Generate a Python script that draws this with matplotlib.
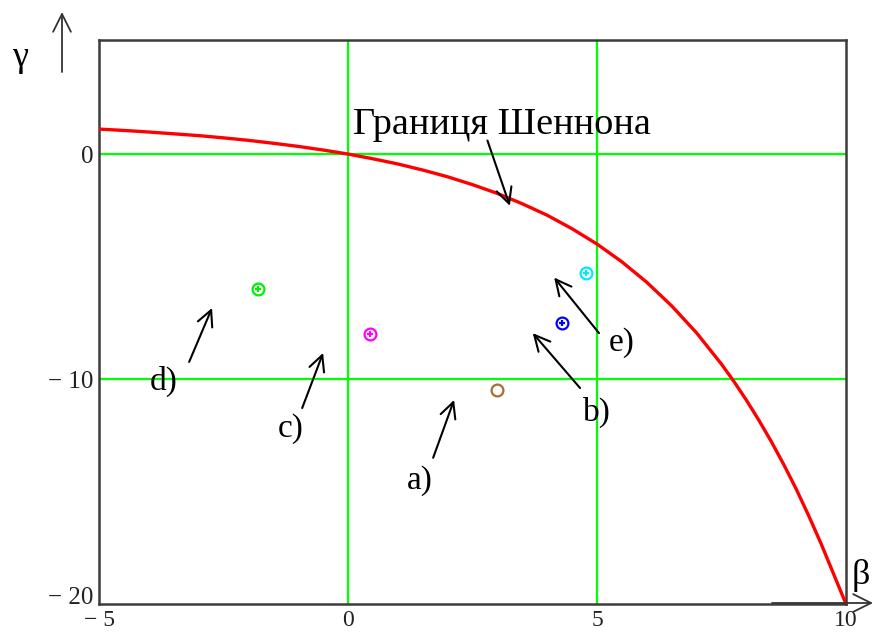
import numpy as np
import matplotlib.pyplot as plt
import matplotlib.transforms as mtransforms

plt.rcParams['font.family'] = ['Liberation Serif', 'DejaVu Serif']

# Shannon bound, gamma vs beta
beta = [-5.0, -4.5, -4.0, -3.5, -3.0, -2.5, -2.0, -1.5, -1.0, -0.5,
        0.0, 0.5, 1.0, 1.5, 2.0, 2.5, 3.0, 3.5, 4.0, 4.5,
        5.0, 5.5, 6.0, 6.5, 7.0, 7.5, 7.75, 8.0, 8.25, 8.5,
        8.75, 9.0, 9.25, 9.5, 9.75, 10.0]
gamma = [1.11, 1.05, 0.98, 0.90, 0.82, 0.72, 0.61, 0.48, 0.34, 0.18,
         0.0, -0.21, -0.44, -0.71, -1.01, -1.36, -1.75, -2.21, -2.72, -3.32,
         -4.0, -4.79, -5.70, -6.75, -7.95, -9.34, -10.11, -10.94, -11.83, -12.78,
         -13.80, -14.89, -16.07, -17.32, -18.66, -20.0]

# modulation schemes
point_names = ['a)', 'b)', 'c)', 'd)', 'e)']
point_beta = [3.0, 4.3, 0.45, -1.8, 4.78]
point_gamma = [-10.5, -7.5, -8.0, -6.0, -5.3]
point_colors = ['#b06a30', '#0000ff', '#ff00ff', '#00ee00', '#00e8ff']

x_ticks = [-5, 0, 5, 10]
y_ticks = [-20, -10, 0]


def tick_text(v):
    return '\u2212 %d' % abs(v) if v < 0 else '%d' % v


"""
Draw the bound, the scheme points and the annotations
"""
def plot_bound():
    fig = plt.figure(figsize=(8.73, 6.33), dpi=100)
    ax = fig.add_axes([99 / 873, 29 / 633, 747 / 873, 564 / 633])

    ax.set_xlim(-5, 10)
    ax.set_ylim(-20, 5.07)

    # green grid lines
    for v in [0, 5]:
        ax.axvline(v, color='#00ff00', lw=1.6, zorder=1)
    for v in [0, -10]:
        ax.axhline(v, color='#00ff00', lw=1.6, zorder=1)

    ax.plot(beta, gamma, color='#ff0000', lw=2.4, zorder=3)

    for i in range(len(point_names)):
        ax.plot(point_beta[i], point_gamma[i], 'o', ms=8.5, mfc='none',
                mec=point_colors[i], mew=1.6, zorder=4)
        if i > 0:
            ax.plot(point_beta[i], point_gamma[i], '+', ms=4.5,
                    mec=point_colors[i], mew=1.6, zorder=4)

    arrow = dict(arrowstyle='->', lw=1.5, color='black', mutation_scale=28,
                 shrinkA=0, shrinkB=0)
    fs = 24

    # label position, arrow tail, arrow head
    notes = [
        ('a)', (1.45, -14.5), (1.71, -13.5), (2.13, -10.93)),
        ('b)', (5.0, -11.5), (4.66, -10.4), (3.71, -7.96)),
        ('c)', (-1.16, -12.2), (-0.92, -11.29), (-0.5, -8.84)),
        ('d)', (-3.71, -10.1), (-3.19, -9.24), (-2.73, -6.84)),
        ('e)', (5.5, -8.4), (5.04, -7.96), (4.14, -5.49)),
    ]
    for name, txt, tail, head in notes:
        ax.text(txt[0], txt[1], name, fontsize=fs, ha='center', va='center')
        ax.annotate('', xy=head, xytext=tail, arrowprops=arrow)

    ax.text(3.1, 1.3, 'Границя Шеннона', fontsize=27.5, ha='center',
            va='center')
    ax.annotate('', xy=(3.25, -2.3), xytext=(2.8, 0.6), arrowprops=arrow)

    # axes look
    ax.set_xticks(x_ticks)
    ax.set_yticks(y_ticks)
    ax.set_xticklabels([tick_text(v) for v in x_ticks])
    ax.set_yticklabels([tick_text(v) for v in y_ticks])
    ax.tick_params(length=0, labelsize=17, colors='#222222')
    ax.tick_params(axis='x', pad=4)
    ax.tick_params(axis='y', pad=4, labelsize=18)
    # lift the lowest gamma label a bit so it clears the beta labels
    lowest = ax.get_yticklabels()[0]
    lowest.set_transform(lowest.get_transform() +
                         mtransforms.ScaledTranslation(0, 6 / 72, fig.dpi_scale_trans))
    for s in ax.spines.values():
        s.set_color('#3c3c3c')
        s.set_linewidth(1.8)

    # axis names with arrows outside the frame
    big_arrow = dict(arrowstyle='->', lw=1.3, color='#333333',
                     mutation_scale=32, shrinkA=0, shrinkB=0)
    fig.text(20 / 873, 575 / 633, '\u03b3', fontsize=26, ha='center',
             va='center')
    ax.annotate('', xy=(62, 621), xytext=(62, 561), xycoords='figure pixels',
                textcoords='figure pixels', arrowprops=big_arrow)
    fig.text(861 / 873, 58 / 633, '\u03b2', fontsize=26, ha='center',
             va='center')
    ax.annotate('', xy=(873, 30), xytext=(772, 30), xycoords='figure pixels',
                textcoords='figure pixels', arrowprops=big_arrow,
                annotation_clip=False)

    fig.savefig('out.png', dpi=100)


if __name__ == '__main__':
    plot_bound()
